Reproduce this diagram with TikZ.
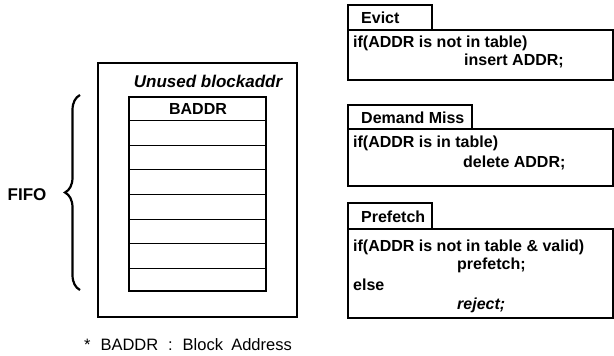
\documentclass[tikz,border=0pt]{standalone}
\usepackage{fontspec}
\setmainfont{Liberation Sans}
\usepackage{tikz}
\usetikzlibrary{positioning, decorations.pathreplacing}

\begin{document}
\begin{tikzpicture}[
    x=1pt, y=-1pt,
    frame/.style={draw=black, line width=2.2pt},
    rowline/.style={draw=black, line width=0.9pt},
    bracestyle/.style={draw=black, line width=2.2pt, decorate, decoration={brace, amplitude=15pt}},
    boldtext/.style={inner sep=0pt, font=\bfseries\fontsize{16}{18}\selectfont},
    codeline/.style={boldtext, anchor=west},
    note/.style={inner sep=0pt, font=\fontsize{16.5}{18}\selectfont}
]
\useasboundingbox (0,0) rectangle (614,356);

% FIFO table of unused block addresses
\draw[frame] (98,63) rectangle (297,317);
\node[boldtext, font=\bfseries\itshape\fontsize{17}{18}\selectfont] (unused) at (208,81) {Unused blockaddr};
\draw[frame] (129,97) rectangle (266,291);
\node[boldtext] (baddr) at (198,109) {BADDR};
\foreach \y in {120,145,169,194,219,243,268}
    \draw[rowline] (129,\y) -- (266,\y);

% FIFO brace
\coordinate (bracebot) at (80,290);
\coordinate (bracetop) at (80,95);
\draw[bracestyle] (bracebot) -- (bracetop);
\node[boldtext, font=\bfseries\fontsize{17}{20}\selectfont] (fifo) at (27,195) {FIFO};

% Footnote
\node[note] (footnote) at (188,345) {*\hspace{0.6em}BADDR\hspace{0.6em}:\hspace{0.6em}Block\hspace{0.5em}Address};

% Evict
\draw[frame] (348,5) rectangle (432,30);
\draw[frame] (348,30) rectangle (613,80);
\node[codeline] (evict) at (361,18) {Evict};
\node[codeline] (ev1) at (353,43) {if(ADDR is not in table)};
\node[codeline] (ev2) at (464,61) {insert ADDR;};

% Demand Miss
\draw[frame] (348,105) rectangle (472,129);
\draw[frame] (348,129) rectangle (613,186);
\node[codeline] (dmiss) at (361,118) {Demand Miss};
\node[codeline] (dm1) at (353,143) {if(ADDR is in table)};
\node[codeline] (dm2) at (463,163) {delete ADDR;};

% Prefetch
\draw[frame] (348,203) rectangle (432,229);
\draw[frame] (348,229) rectangle (613,318);
\node[codeline] (pref) at (361,217) {Prefetch};
\node[codeline] (pf1) at (353,247) {if(ADDR is not in table \& valid)};
\node[codeline] (pf2) at (457,265) {prefetch;};
\node[codeline] (pf3) at (353,285) {else};
\node[codeline, font=\bfseries\itshape\fontsize{16}{18}\selectfont] (pf4) at (457,305) {reject;};

\end{tikzpicture}
\end{document}
